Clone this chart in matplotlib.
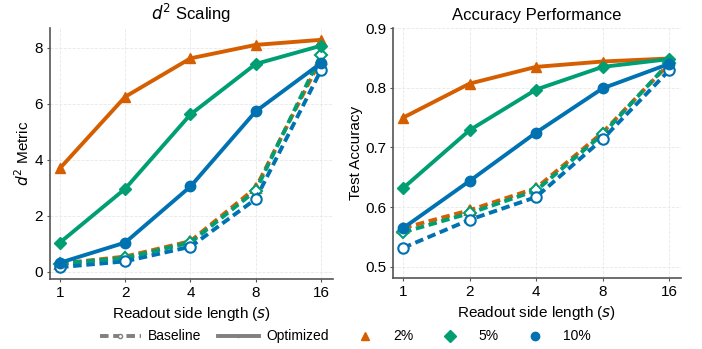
import matplotlib
matplotlib.use("Agg")
import matplotlib.pyplot as plt
import numpy as np
from matplotlib.lines import Line2D

plt.rcParams['font.family'] = ['Liberation Sans', 'DejaVu Sans']

sizes = [1, 2, 4, 8, 16]
labels = ["2%", "5%", "10%"]
colors = ["#D55E00", "#009E73", "#0072B2"]
markers = ["^", "D", "o"]

d2_opt = [
    [3.70, 6.25, 7.62, 8.10, 8.28],
    [1.05, 2.97, 5.62, 7.42, 8.07],
    [0.33, 1.05, 3.05, 5.73, 7.45],
]
d2_base = [
    [0.30, 0.55, 1.10, 3.00, 7.60],
    [0.30, 0.50, 1.05, 2.90, 7.75],
    [0.17, 0.38, 0.90, 2.60, 7.20],
]
acc_opt = [
    [0.750, 0.807, 0.835, 0.844, 0.849],
    [0.632, 0.729, 0.797, 0.835, 0.848],
    [0.565, 0.644, 0.725, 0.799, 0.840],
]
acc_base = [
    [0.565, 0.595, 0.632, 0.725, 0.840],
    [0.558, 0.590, 0.628, 0.722, 0.842],
    [0.532, 0.579, 0.617, 0.714, 0.829],
]

fig = plt.figure(figsize=(7.02, 3.49), dpi=100)
ax1 = fig.add_axes([0.0712, 0.2006, 0.4028, 0.7190])
ax2 = fig.add_axes([0.5598, 0.2035, 0.4103, 0.7161])

xs = np.log2(sizes)
msize = {"^": 7, "D": 6.5, "o": 7.5}


def draw(ax, opt, base):
    for i in range(3):
        ax.plot(xs, base[i], ls=(0, (2.2, 1.2)), lw=2.8, color=colors[i],
                marker=markers[i], ms=msize[markers[i]], mfc="white",
                mec=colors[i], mew=1.5, zorder=2)
    for i in range(3):
        ax.plot(xs, opt[i], ls="-", lw=2.8, color=colors[i],
                marker=markers[i], ms=msize[markers[i]], mfc=colors[i],
                mec=colors[i], zorder=3)
    ax.set_xticks(xs)
    ax.set_xticklabels([str(s) for s in sizes])
    ax.set_xlim(-0.153, 4.18)
    ax.grid(True, ls="--", lw=0.6, color="#e8e8e8")
    ax.set_axisbelow(True)
    for s in ["top", "right"]:
        ax.spines[s].set_visible(False)
    for s in ["left", "bottom"]:
        ax.spines[s].set_color("#555555")
        ax.spines[s].set_linewidth(1.2)
    ax.tick_params(labelsize=11, length=2, width=0.8, color="#555555", pad=3)
    ax.set_xlabel("Readout side length ($s$)", fontsize=11)


draw(ax1, d2_opt, d2_base)
ax1.set_ylim(-0.25, 8.7)
ax1.set_yticks([0, 2, 4, 6, 8])
ax1.set_ylabel("$d^2$ Metric", fontsize=11, labelpad=1.5)
ax1.set_title("$d^2$ Scaling", fontsize=12, pad=6)

draw(ax2, acc_opt, acc_base)
ax2.set_ylim(0.4815, 0.9)
ax2.set_yticks([0.5, 0.6, 0.7, 0.8, 0.9])
ax2.set_ylabel("Test Accuracy", fontsize=11, labelpad=1.5)
ax2.set_title("Accuracy Performance", fontsize=12, pad=6)

handles = [
    Line2D([], [], color="gray", ls=(0, (2.2, 1.2)), lw=2.8, marker="o",
           ms=3, mfc="white", mec="gray"),
    Line2D([], [], color="gray", ls="-", lw=2.8, marker="o", ms=1.5,
           mfc="gray", mec="gray"),
]
names = ["Baseline", "Optimized"]
for c, m, l in zip(colors, markers, labels):
    handles.append(Line2D([], [], ls="none", marker=m, color=c, ms=6))
    names.append(l)
fig.legend(handles, names, loc="lower center", ncol=5, frameon=False,
           fontsize=10, bbox_to_anchor=(0.4915, -0.02), handlelength=3.0,
           columnspacing=1.15, handletextpad=0.5)

fig.savefig("out.png", dpi=100)
